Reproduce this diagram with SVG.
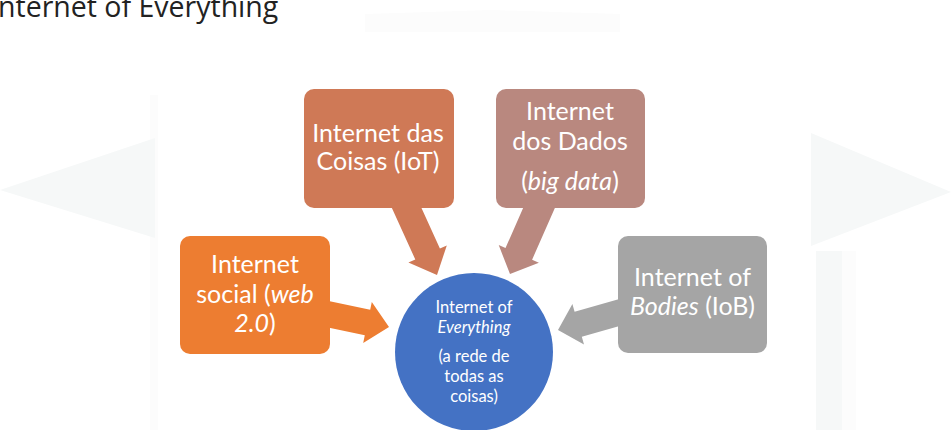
<svg xmlns="http://www.w3.org/2000/svg" width="951" height="430" viewBox="0 0 951 430">
<style>
.bg{fill:#f6f8f8}
.bg2{fill:#fcfcfc}
.t{font-family:Lato,"Open Sans",sans-serif;fill:#ffffff;text-anchor:middle}
.box{font-size:25px}
.c{font-size:16.5px}
.title{font-family:"Open Sans","Noto Sans",sans-serif;font-size:28.5px;fill:#222222}
</style>
<rect width="951" height="430" fill="#ffffff"/>
<g id="background">
<path class="bg2" d="M365,32 L365,14 Q430,12 490,10 Q550,12 620,14 L620,32 Z"/>
<rect class="bg2" x="150" y="95" width="8" height="335"/>
<polygon class="bg" points="0,190 155,138 155,238"/>
<polygon class="bg" points="811,133 951,192 811,246"/>
<rect class="bg" x="816" y="251" width="26" height="179"/>
<rect class="bg2" x="842" y="251" width="14" height="179"/>
</g>
<text class="title" x="-2" y="17">nternet of Everything</text>
<g id="connectors">
<polygon fill="#CF7956" points="414.9,193.4 439.9,248.5 446.8,245.4 437,275 408.4,262.6 415.3,259.5 390.3,204.4"/>
<polygon fill="#B9887F" points="556.3,204.7 532.1,259.7 538.9,262.7 510,274 498.7,245.1 505.5,248.1 529.7,193.1"/>
<polygon fill="#ED7D31" points="317.3,325.2 364.8,335.2 363.2,343.1 389,327 371.8,301.9 370.2,309.8 322.7,299.8"/>
<polygon fill="#A5A5A5" points="633.6,322 581.8,336.7 584,344.4 558,330 572.4,304.1 574.6,311.8 626.4,297"/>
</g>
<g id="node-iot">
<rect x="304" y="89" width="150" height="119" rx="10" fill="#CF7956"/>
<text class="t box" x="378" y="141.5">Internet das</text>
<text class="t box" x="378" y="170">Coisas (IoT)</text>
</g>
<g id="node-bigdata">
<rect x="496" y="89" width="149" height="119" rx="10" fill="#B9887F"/>
<text class="t box" x="570" y="120">Internet</text>
<text class="t box" x="570" y="150">dos Dados</text>
<text class="t box" x="570" y="190">(<tspan font-style="italic">big data</tspan>)</text>
</g>
<g id="node-social">
<rect x="180" y="236" width="150" height="118" rx="10" fill="#ED7D31"/>
<text class="t box" x="255" y="273">Internet</text>
<text class="t box" x="255" y="302.5">social (<tspan font-style="italic">web</tspan></text>
<text class="t box" x="255" y="331.5"><tspan font-style="italic">2.0</tspan>)</text>
</g>
<g id="node-bodies">
<rect x="618" y="236" width="149" height="117" rx="10" fill="#A5A5A5"/>
<text class="t box" x="692.5" y="286">Internet of</text>
<text class="t box" x="692.5" y="315"><tspan font-style="italic">Bodies</tspan> (IoB)</text>
</g>
<g id="node-ioe">
<circle cx="474" cy="352" r="79" fill="#4472C4"/>
<text class="t c" x="474" y="313.3">Internet of</text>
<text class="t c" x="474" y="333.3" font-style="italic">Everything</text>
<text class="t c" x="474" y="361.7">(a rede de</text>
<text class="t c" x="474" y="381.7">todas as</text>
<text class="t c" x="474" y="401.7">coisas)</text>
</g>
</svg>
